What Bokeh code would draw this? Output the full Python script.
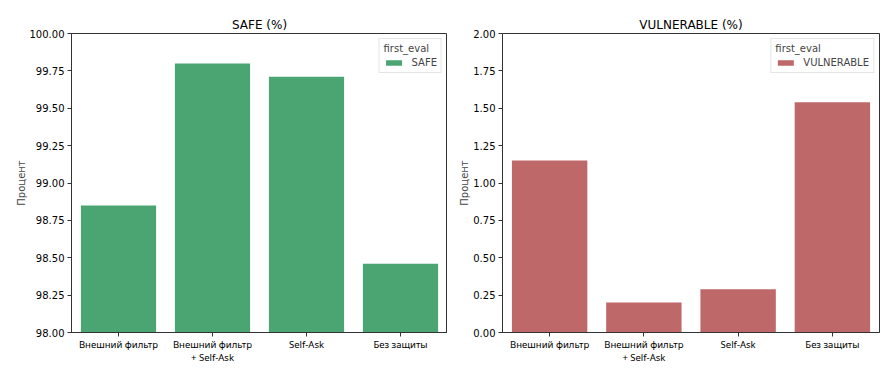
from bokeh.plotting import figure
from bokeh.layouts import row
from bokeh.models import FactorRange, Range1d, NumeralTickFormatter, FixedTicker, Legend, LegendItem, ColumnDataSource
from bokeh.embed import file_html
from bokeh.resources import INLINE

categories = ["Внешний фильтр", "Внешний фильтр\n+ Self-Ask", "Self-Ask", "Без защиты"]
safe_values = [98.85, 99.80, 99.71, 98.46]
vuln_values = [1.15, 0.20, 0.29, 1.54]
safe_ticks = [98.0, 98.25, 98.5, 98.75, 99.0, 99.25, 99.5, 99.75, 100.0]
vuln_ticks = [0.0, 0.25, 0.5, 0.75, 1.0, 1.25, 1.5, 1.75, 2.0]

FONT = "DejaVu Sans"


def make(title, values, ymin, ymax, ticks, color, label, fw, bl, br):
    src = ColumnDataSource(dict(x=categories, top=values))
    p = figure(x_range=FactorRange(*categories, range_padding=0.0), y_range=Range1d(ymin, ymax),
               frame_width=fw, frame_height=299, output_backend="svg", toolbar_location=None,
               min_border_left=bl, min_border_right=br, min_border_top=33, min_border_bottom=30)
    r = p.vbar(x="x", top="top", bottom=ymin, width=0.8, source=src, fill_color=color, line_color=None)
    p.title.text = title
    p.title.align = "center"
    p.title.text_font = FONT
    p.title.text_font_style = "normal"
    p.title.text_font_size = "12px"
    p.title.text_color = "#000000"
    p.title.standoff = 4
    p.xgrid.visible = False
    p.ygrid.visible = False
    p.outline_line_color = "#333333"
    p.outline_line_width = 1
    p.yaxis.ticker = FixedTicker(ticks=ticks)
    p.yaxis.formatter = NumeralTickFormatter(format="0.00")
    p.yaxis.axis_label = "Процент"
    p.yaxis.axis_label_text_font = FONT
    p.yaxis.axis_label_text_font_style = "normal"
    p.yaxis.axis_label_text_font_size = "10px"
    p.yaxis.axis_label_standoff = 0
    for ax in (p.xaxis[0], p.yaxis[0]):
        ax.major_label_text_font = FONT
        ax.major_label_text_color = "#000000"
        ax.axis_line_color = "#333333"
        ax.major_tick_line_color = "#333333"
        ax.major_tick_out = 4
        ax.major_tick_in = 0
        ax.minor_tick_line_color = None
    p.yaxis.major_label_text_font_size = "10px"
    p.yaxis.major_label_standoff = 3
    p.xaxis.major_label_text_font = "Noto Sans"
    p.xaxis.major_label_text_font_size = "9.5px"
    p.xaxis.major_label_standoff = 1
    p.xaxis.major_label_text_line_height = 1.05
    legend = Legend(items=[LegendItem(label=label, renderers=[r])], location="top_right",
                    title="first_eval", title_text_font=FONT, title_text_font_size="10px",
                    title_text_font_style="normal", label_text_font=FONT, label_text_font_size="10px",
                    border_line_color="#cccccc", border_line_width=1, background_fill_alpha=0.8,
                    glyph_width=20, glyph_height=7, label_height=10, spacing=2, padding=4,
                    margin=5, title_standoff=3, label_standoff=8)
    legend.title_location = "above"
    p.add_layout(legend)
    return p


p1 = make("SAFE (%)", safe_values, 98.0, 100.0, safe_ticks, "#4ba573", "SAFE", 376, 71, 0)
p2 = make("VULNERABLE (%)", vuln_values, 0.0, 2.0, vuln_ticks, "#bf6869", "VULNERABLE", 377, 55, 6)

layout = row(p1, p2)
open("out.html", "w").write(file_html(layout, INLINE))
